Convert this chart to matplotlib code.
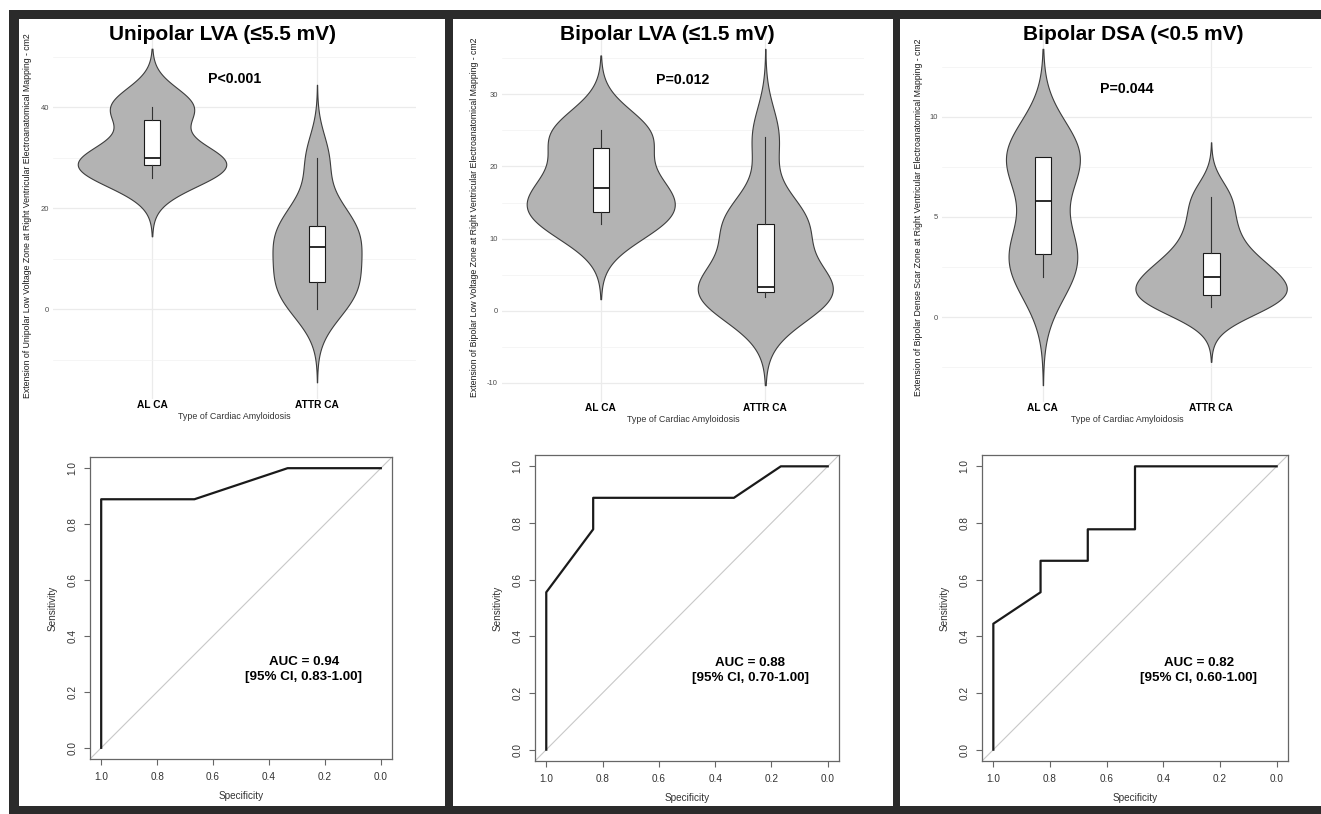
import numpy as np
import matplotlib
matplotlib.use("Agg")
import matplotlib.pyplot as plt
from matplotlib.patches import Rectangle
from matplotlib.ticker import MultipleLocator, AutoMinorLocator

plt.rcParams["font.family"] = ["Liberation Sans", "DejaVu Sans"]
plt.rcParams["axes.unicode_minus"] = False

# panel texts
titles = ["Unipolar LVA (≤5.5 mV)", "Bipolar LVA (≤1.5 mV)", "Bipolar DSA (<0.5 mV)"]
p_labels = ["P<0.001", "P=0.012", "P=0.044"]
p_heights = [45.5, 32.0, 11.4]
ylabels = [
    "Extension of Unipolar Low Voltage Zone at Right Ventricular Electroanatomical Mapping - cm2",
    "Extension of Bipolar Low Voltage Zone at Right Ventricular Electroanatomical Mapping - cm2",
    "Extension of Bipolar Dense Scar Zone at Right Ventricular Electroanatomical Mapping - cm2",
]
groups = ["AL CA", "ATTR CA"]
xlabel = "Type of Cardiac Amyloidosis"
auc_labels = ["AUC = 0.94\n[95% CI, 0.83-1.00]",
              "AUC = 0.88\n[95% CI, 0.70-1.00]",
              "AUC = 0.82\n[95% CI, 0.60-1.00]"]
major_steps = [20, 10, 5]

# estimated patient values (cm2), read from boxes / ROC steps
al_unipolar = [26, 28, 30, 30, 40, 40]
attr_unipolar = [0, 3, 5.4, 8, 12.3, 14, 16.5, 20, 30]
al_bipolar = [12, 13, 15.9, 18.1, 24.1, 25]
attr_bipolar = [1.9, 2.2, 2.6, 3.0, 3.3, 12, 12, 12.5, 24.1]
al_dense = [2, 3, 3.6, 8, 8, 8]
attr_dense = [0.5, 0.8, 1.1, 1.5, 2.0, 2.5, 3.2, 4.5, 6.0]

al_values = [al_unipolar, al_bipolar, al_dense]
attr_values = [attr_unipolar, attr_bipolar, attr_dense]

W, H = 1321, 814
fig = plt.figure(figsize=(W / 100, H / 100), dpi=100, facecolor="white")


def px_axes(x0, y0, x1, y1):
    return fig.add_axes([x0 / W, 1 - y1 / H, (x1 - x0) / W, (y1 - y0) / H])


def px_rect(x0, y0, x1, y1, color):
    fig.patches.append(Rectangle((x0 / W, 1 - y1 / H), (x1 - x0) / W, (y1 - y0) / H,
                                 transform=fig.transFigure, facecolor=color,
                                 edgecolor="none", zorder=-10))


def kde_curve(x):
    # gaussian density like R density(), bw.nrd0, cut = 3
    x = np.asarray(x, float)
    q1, q3 = np.percentile(x, [25, 75])
    bw = 0.9 * min(x.std(ddof=1), (q3 - q1) / 1.34) * len(x) ** -0.2
    yy = np.linspace(x.min() - 3 * bw, x.max() + 3 * bw, 512)
    dens = np.exp(-0.5 * ((yy[:, None] - x[None, :]) / bw) ** 2).sum(axis=1)
    dens /= len(x) * bw * np.sqrt(2 * np.pi)
    return yy, dens


def roc_points(controls, cases):
    controls = np.asarray(controls, float)
    cases = np.asarray(cases, float)
    vals = np.unique(np.concatenate([controls, cases]))
    thr = np.concatenate([[-np.inf], (vals[:-1] + vals[1:]) / 2, [np.inf]])
    sens = [(cases < t).mean() for t in thr]
    spec = [(controls > t).mean() for t in thr]
    return spec, sens


# dark frame and white panels
px_rect(9, 10, 1321, 814, "#2b2b2b")
px_rect(19, 19, 445, 806, "white")
px_rect(453, 19, 893, 806, "white")
px_rect(900, 19, 1321, 806, "white")

violin_boxes = [(53, 32, 416, 399), (502, 32, 864, 402), (942, 32, 1312, 402)]
ylabel_x = [-0.058, -0.064, -0.051]
title_pos = [(222, 35), (667, 35), (1133, 35)]
roc_boxes = [(90, 457, 392, 759), (535, 455, 839, 761), (982, 455, 1288, 761)]

for i in range(3):
    ax = px_axes(*violin_boxes[i])
    data = [al_values[i], attr_values[i]]
    curves = [kde_curve(d) for d in data]
    peak = max(d.max() for _, d in curves)
    for pos, (yy, dd) in zip([1, 2], curves):
        half = 0.45 * dd / peak
        ax.fill_betweenx(yy, pos - half, pos + half, facecolor="#b3b3b3",
                         edgecolor="#3d3d3d", lw=0.8, zorder=2)
    ax.boxplot(data, positions=[1, 2], widths=0.1, patch_artist=True,
               showcaps=False, showfliers=False,
               boxprops=dict(facecolor="white", edgecolor="#1a1a1a", lw=0.8),
               medianprops=dict(color="#1a1a1a", lw=1.3),
               whiskerprops=dict(color="#333333", lw=0.8), zorder=3)

    lo = min(yy.min() for yy, _ in curves)
    hi = max(yy.max() for yy, _ in curves)
    pad = 0.05 * (hi - lo)
    ax.set_ylim(lo - pad, hi + pad)
    ax.set_xlim(0.4, 2.6)
    ax.set_xticks([1, 2], groups)
    for lab in ax.get_xticklabels():
        lab.set_fontweight("bold")
    ax.yaxis.set_major_locator(MultipleLocator(major_steps[i]))
    ax.yaxis.set_minor_locator(AutoMinorLocator(2))
    ax.grid(True, which="major", color="#ebebeb", lw=0.9)
    ax.grid(True, which="minor", axis="y", color="#f2f2f2", lw=0.5)
    ax.set_axisbelow(True)
    for s in ax.spines.values():
        s.set_visible(False)
    ax.tick_params(axis="y", which="both", length=0, labelsize=5.5,
                   labelcolor="#4d4d4d", pad=3)
    ax.tick_params(axis="x", length=0, labelsize=7.3, labelcolor="black", pad=1)

    ax.set_ylabel(ylabels[i], fontsize=6.3, color="#1a1a1a")
    ax.yaxis.set_label_coords(ylabel_x[i], 0.5)
    ax.set_xlabel(xlabel, fontsize=6.4, color="#333333")
    ax.xaxis.label.set_va("center")
    ax.xaxis.set_label_coords(0.5, -18 / (violin_boxes[i][3] - violin_boxes[i][1]))

    ax.text(1.5, p_heights[i], p_labels[i], ha="center", va="center",
            fontsize=10.2, fontweight="bold")
    fig.text(title_pos[i][0] / W, 1 - title_pos[i][1] / H, titles[i],
             ha="center", va="center", fontsize=15, fontweight="bold")

    # ROC curve
    rx = px_axes(*roc_boxes[i])
    spec, sens = roc_points(al_values[i], attr_values[i])
    rx.plot([1.04, -0.04], [-0.04, 1.04], color="#c8c8c8", lw=0.8)
    rx.plot(spec, sens, color="#1a1a1a", lw=1.6)
    rx.set_xlim(1.04, -0.04)
    rx.set_ylim(-0.04, 1.04)
    ticks = [0.0, 0.2, 0.4, 0.6, 0.8, 1.0]
    rx.set_xticks(ticks, [f"{t:.1f}" for t in ticks])
    rx.set_yticks(ticks, [f"{t:.1f}" for t in ticks])
    for s in rx.spines.values():
        s.set_color("#666666")
        s.set_linewidth(0.9)
    rx.tick_params(length=4, width=0.8, color="#666666", labelsize=7.2,
                   labelcolor="#333333", pad=5)
    rx.tick_params(axis="y", labelrotation=90)
    for lab in rx.get_yticklabels():
        lab.set_va("center")
    side = roc_boxes[i][2] - roc_boxes[i][0]
    rx.set_xlabel("Specificity", fontsize=7.2, color="#333333")
    rx.xaxis.label.set_va("center")
    rx.xaxis.set_label_coords(0.5, -37 / side)
    rx.set_ylabel("Sensitivity", fontsize=7.2, color="#333333")
    rx.yaxis.label.set_va("center")
    rx.yaxis.set_label_coords(-37 / side, 0.5)
    rx.text(0.275, 0.28, auc_labels[i], ha="center", va="center",
            multialignment="center", fontsize=9.6, fontweight="bold",
            linespacing=1.35)

fig.savefig("out.png", dpi=100, facecolor="white")
